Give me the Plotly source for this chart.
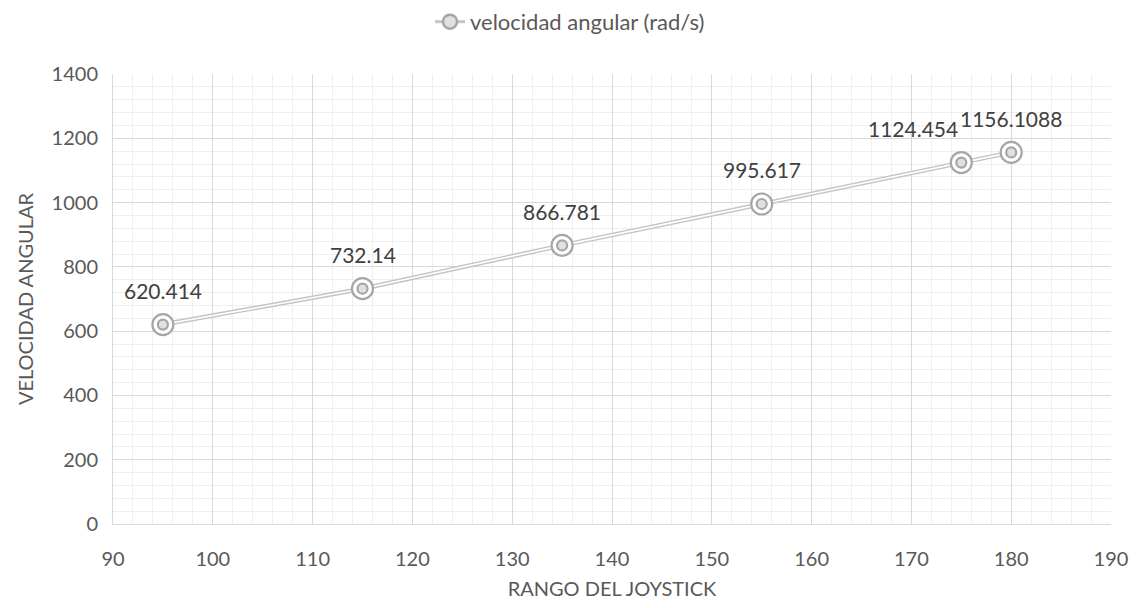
import plotly.graph_objects as go

# Joystick range vs. angular velocity
rango = [95, 115, 135, 155, 175, 180]
velocidad = [620.414, 732.14, 866.781, 995.617, 1124.454, 1156.1088]
etiquetas = ["620.414", "732.14", "866.781", "995.617", "1124.454", "1156.1088"]
# horizontal nudge of each value label (px)
desplaz_x = [0, 0, 0, 0, -48, 0]

x_ticks = list(range(90, 191, 10))
y_ticks = list(range(0, 1401, 200))

FONT = "Lato, Open Sans, sans-serif"
TXT = "#595959"
LINE_C = "#c4c4c4"
MARK_C = "#a6a6a6"

fig = go.Figure()

# compound (double) line: thick gray stroke with a thin white core
fig.add_trace(go.Scatter(
    x=rango, y=velocidad, mode="lines",
    line=dict(color=LINE_C, width=4.5),
    showlegend=False, hoverinfo="skip"))
fig.add_trace(go.Scatter(
    x=rango, y=velocidad, mode="lines",
    line=dict(color="white", width=1.6),
    showlegend=False, hoverinfo="skip"))
# double-ring markers
fig.add_trace(go.Scatter(
    x=rango, y=velocidad, mode="markers",
    marker=dict(symbol="circle", size=21, color="white",
                line=dict(color=MARK_C, width=2.2)),
    name="velocidad angular (rad/s)",
    showlegend=False))
fig.add_trace(go.Scatter(
    x=rango, y=velocidad, mode="markers",
    marker=dict(symbol="circle", size=10, color="#e0e0e0",
                line=dict(color=MARK_C, width=2.2)),
    showlegend=False))
# legend entry
fig.add_trace(go.Scatter(
    x=[None], y=[None], mode="lines+markers",
    line=dict(color=LINE_C, width=3),
    marker=dict(symbol="circle", size=14, color="#e0e0e0",
                line=dict(color=MARK_C, width=2.5)),
    name="velocidad angular (rad/s)", showlegend=True))

for xv, yv, t, dx in zip(rango, velocidad, etiquetas, desplaz_x):
    fig.add_annotation(x=xv, y=yv, text=t, showarrow=False,
                       xshift=dx, yshift=34,
                       font=dict(family=FONT, size=21, color="#404040"))

fig.update_layout(
    width=1140, height=608,
    margin=dict(l=113, r=27, t=74, b=83),
    paper_bgcolor="white", plot_bgcolor="white",
    font=dict(family=FONT, size=18, color=TXT),
    legend=dict(orientation="h", x=0.5, xanchor="center", xref="container",
                y=0.964, yanchor="middle", yref="container",
                font=dict(family=FONT, size=22, color=TXT)),
    xaxis=dict(
        range=[90, 190], tickvals=x_ticks, ticktext=[str(v) for v in x_ticks],
        showgrid=True, gridcolor="#d9d9d9", gridwidth=1,
        minor=dict(dtick=2, showgrid=True, gridcolor="#efefef", gridwidth=1),
        zeroline=False, showline=True, linecolor="#d9d9d9", linewidth=1,
        ticks="", ticklabelstandoff=17, tickfont=dict(size=20, color=TXT),
        title=dict(text="RANGO DEL JOYSTICK", standoff=12,
                   font=dict(size=20, color=TXT))),
    yaxis=dict(
        range=[0, 1400], tickvals=y_ticks, ticktext=[str(v) for v in y_ticks],
        showgrid=True, gridcolor="#d9d9d9", gridwidth=1,
        minor=dict(dtick=40, showgrid=True, gridcolor="#efefef", gridwidth=1),
        zeroline=False, showline=True, linecolor="#d9d9d9", linewidth=1,
        ticks="", ticklabelstandoff=10, tickfont=dict(size=20, color=TXT),
        title=dict(text="VELOCIDAD ANGULAR", standoff=12,
                   font=dict(size=20, color=TXT))),
)

fig.write_html("out.html")
